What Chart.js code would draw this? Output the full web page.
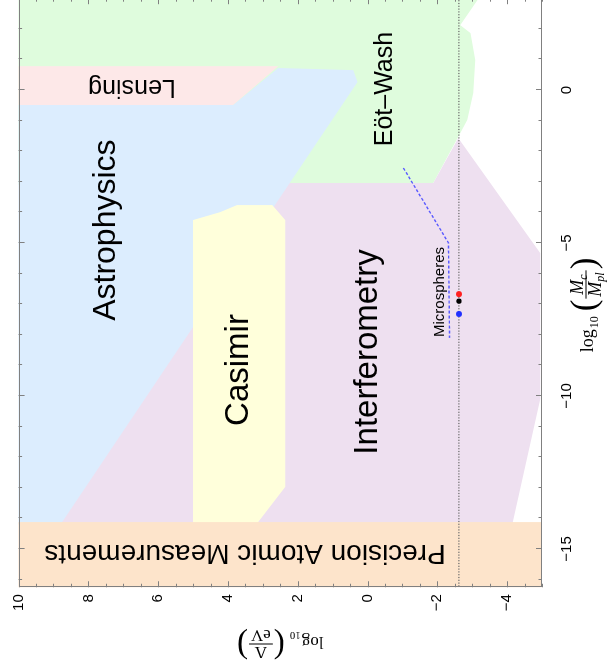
<!DOCTYPE html>
<html>
<head>
<meta charset="utf-8">
<script src="https://cdn.jsdelivr.net/npm/chart.js@4.4.1/dist/chart.umd.min.js"></script>
<style>
  html, body { margin: 0; padding: 0; background: #fff; overflow: hidden; width: 608px; height: 670px; }
  /* the plot is laid out landscape and turned a quarter turn counter-clockwise */
  #wrap { position: absolute; left: 0; top: 0; width: 680px; height: 608px;
          transform-origin: 0 0; transform: translate(0, 670px) rotate(-90deg); }
</style>
</head>
<body>
<div id="wrap"><canvas id="c" width="680" height="608"></canvas></div>
<script>
// ---- axes: x = log10(Mc/Mpl), y = log10(Λ/eV) ----
const massRange  = [-16.25, 3];
const scaleRange = [-5, 10];
const massTicks  = [-15, -10, -5, 0];
const scaleTicks = [10, 8, 6, 4, 2, 0, -2, -4];

// ---- excluded regions, vertices as [log10(Mc/Mpl), log10(Λ/eV)] ----
const eotWash = [[3.2, 10.5], [3.2, -3.31], [2.94, -3.15], [2.12, -2.66], [1.86, -2.95], [0.98, -3.09],
                 [-0.10, -3.03], [-0.98, -2.86], [-1.41, -2.66], [-3.04, -1.88], [-3.1, -1.88], [-3.1, 10.5]];
const lensing = [[0.78, 10.5], [0.78, 2.56], [-0.49, 3.85], [-0.49, 10.5]];
const interferometry = [[-3.04, 2.6], [-3.04, -1.88], [-1.57, -2.60], [-5.33, -4.95], [-10.10, -4.95],
                        [-14.2, -4.15], [-14.2, 9.3]];
const astrophysics = [[-0.49, 10.5], [-0.49, 3.85], [0.72, 2.56], [0.65, 0.41], [0.26, 0.29],
                      [-14.2, 8.80], [-14.2, 10.5]];
const casimir = [[-14.2, 5.0], [-4.25, 5.0], [-3.99, 4.22], [-3.76, 3.74], [-3.76, 2.73], [-4.25, 2.36],
                 [-12.97, 2.36], [-14.2, 3.19]];
const atomic = [[-16.5, 10.5], [-14.12, 10.5], [-14.12, -5.5], [-16.5, -5.5]];

// ---- lines and points ----
const darkEnergy = [[-16.5, -2.62], [3.5, -2.62]];          // Λ = 2.4 meV
const microspheres = [[-2.55, -1.03], [-5.0, -2.32], [-8.1, -2.35]];
const pointRed   = [[-6.67, -2.62]];
const pointBlack = [[-6.90, -2.62]];
const pointBlue  = [[-7.32, -2.62]];

// ---- region names ----
const regionNames = ['Astrophysics', 'Casimir', 'Interferometry', 'Eöt–Wash', 'Microspheres', 'Lensing', 'Precision Atomic Measurements'];
const nameAnchors = [[-4.58, 7.49], [-9.15, 3.69], [-8.56, 0.0], [0.03, -0.50], [-6.6, -2.06], [0.1, 6.75], [-15.12, 3.51]];
const nameSizes = [32, 33, 33, 25, 15, 25, 28];
const nameTurned = [false, false, false, false, false, true, true];

const pts = a => a.map(([x, y]) => ({x, y}));
const closed = a => pts(a.concat([a[0]]));

function region(data, color, order) {
  return { data: closed(data), showLine: true, fill: 'shape', backgroundColor: color,
           borderWidth: 0, borderColor: 'rgba(0,0,0,0)', pointRadius: 0, tension: 0, order };
}

const SANS = '"Liberation Sans", Arial, sans-serif';
const SERIF = '"Liberation Serif", "Times New Roman", serif';

const namesPlugin = {
  id: 'names',
  afterDatasetsDraw(chart) {
    const {ctx, scales: {x, y}} = chart;
    regionNames.forEach((t, i) => {
      const [mx, my] = nameAnchors[i];
      ctx.save();
      ctx.translate(x.getPixelForValue(mx), y.getPixelForValue(my));
      if (nameTurned[i]) ctx.rotate(-Math.PI / 2);
      ctx.font = nameSizes[i] + 'px ' + SANS;
      ctx.fillStyle = '#000';
      ctx.textAlign = 'center';
      ctx.textBaseline = 'middle';
      ctx.fillText(t, 0, 0);
      ctx.restore();
    });
  }
};

const framePlugin = {
  id: 'frame',
  afterDatasetsDraw(chart) {
    const {ctx, chartArea: a, scales: {x, y}} = chart;
    ctx.save();
    ctx.strokeStyle = '#808080';
    ctx.lineWidth = 1;
    const seg = (x1, y1, x2, y2) => { ctx.beginPath(); ctx.moveTo(x1, y1); ctx.lineTo(x2, y2); ctx.stroke(); };
    // ticks pointing into the plot on all four sides
    for (let v = Math.ceil(x.min); v <= x.max; v++) {
      const p = Math.round(x.getPixelForValue(v)) + 0.5;
      const len = v % 5 === 0 ? 6 : 3.5;
      seg(p, a.bottom, p, a.bottom - len);
      seg(p, a.top, p, a.top + len);
    }
    for (let k = Math.ceil(y.min * 2); k <= y.max * 2; k++) {
      const v = k / 2;
      const p = Math.round(y.getPixelForValue(v)) + 0.5;
      const len = v % 2 === 0 ? 6 : 3.5;
      seg(a.left, p, a.left + len, p);
      seg(a.right, p, a.right - len, p);
    }
    ctx.strokeRect(Math.round(a.left) + 0.5, Math.round(a.top) + 0.5,
                   Math.round(a.right) - Math.round(a.left) - 1, Math.round(a.bottom) - Math.round(a.top) - 1);
    ctx.restore();
  }
};

// log10 ( num / den ) written with a stacked fraction; the fraction bar sits at the origin
function fracTitle(ctx, cx, cy, rot, num, den, fs) {
  ctx.save();
  ctx.translate(cx, cy);
  ctx.rotate(rot);
  ctx.fillStyle = '#000';
  ctx.textBaseline = 'alphabetic';
  const sub = Math.round(fs * 0.66);
  const f = (size, italic) => (italic ? 'italic ' : '') + size + 'px ' + SERIF;
  const width = parts => parts.reduce((w, p) => { ctx.font = f(p.sub ? sub : fs, p.it); return w + ctx.measureText(p.t).width; }, 0);
  ctx.font = f(fs); const wLog = ctx.measureText('log').width;
  ctx.font = f(sub); const wTen = ctx.measureText('10').width;
  const pfs = Math.round(fs * 1.95);
  ctx.font = f(pfs); const wPar = ctx.measureText('(').width;
  const wNum = width(num), wDen = width(den);
  const wFrac = Math.max(wNum, wDen) + 6;
  const gap = 5;
  const total = wLog + 1 + wTen + gap + wPar + wFrac + wPar;
  let cur = -total / 2;
  const mid = fs * 0.3;
  ctx.font = f(fs); ctx.fillText('log', cur, mid + 2); cur += wLog + 1;
  ctx.font = f(sub); ctx.fillText('10', cur, mid + 2 + sub * 0.42); cur += wTen + gap;
  ctx.font = f(pfs); ctx.fillText('(', cur, pfs * 0.25); cur += wPar;
  const drawRow = (parts, x0, base) => {
    let c = x0;
    parts.forEach(p => {
      ctx.font = f(p.sub ? sub : fs, p.it);
      ctx.fillText(p.t, c, base + (p.sub ? sub * 0.3 : 0));
      c += ctx.measureText(p.t).width;
    });
  };
  drawRow(num, cur + (wFrac - wNum) / 2, -3);
  ctx.fillRect(cur + 1, -0.5, wFrac - 2, 1);
  drawRow(den, cur + (wFrac - wDen) / 2, 3 + fs * 0.66);
  cur += wFrac;
  ctx.font = f(pfs); ctx.fillText(')', cur, pfs * 0.25);
  ctx.restore();
}

const titlePlugin = {
  id: 'titles',
  afterDraw(chart) {
    const {ctx, chartArea: a} = chart;
    fracTitle(ctx, 365, a.bottom + 44, 0,
      [{t: 'M', it: true}, {t: 'c', it: true, sub: true}],
      [{t: 'M', it: true}, {t: 'pl', it: true, sub: true}], 18);
    fracTitle(ctx, 26, (a.top + a.bottom) / 2, -Math.PI / 2,
      [{t: 'Λ'}], [{t: 'eV'}], 17);
  }
};

new Chart(document.getElementById('c'), {
  type: 'scatter',
  data: {
    datasets: [
      region(eotWash, '#dffcdd', 9),
      region(lensing, '#fde8e8', 8),
      region(interferometry, '#eee0f0', 7),
      region(astrophysics, '#dcedfe', 6),
      region(casimir, '#ffffdb', 5),
      region(atomic, '#fde4cb', 4),
      { data: pts(darkEnergy), showLine: true, borderColor: '#6a6a6a', borderWidth: 1.2,
        borderDash: [1.2, 1.6], pointRadius: 0, fill: false, order: 3 },
      { data: pts(microspheres), showLine: true, borderColor: '#5a5aff', borderWidth: 1.4,
        borderDash: [3, 2], pointRadius: 0, fill: false, order: 2 },
      { data: pts(pointRed), pointRadius: 3, backgroundColor: '#ff2020', borderWidth: 0, order: 1 },
      { data: pts(pointBlue), pointRadius: 3, backgroundColor: '#2030ff', borderWidth: 0, order: 1 },
      { data: pts(pointBlack), pointRadius: 2.6, backgroundColor: '#000', borderWidth: 0, order: 0 }
    ]
  },
  options: {
    responsive: false,
    animation: false,
    devicePixelRatio: 1,
    layout: { padding: { top: 18.6, right: 8.2, left: 0, bottom: 0 } },
    plugins: { legend: { display: false }, tooltip: { enabled: false } },
    scales: {
      x: {
        type: 'linear', min: massRange[0], max: massRange[1],
        grid: { display: false, drawTicks: false }, border: { display: false },
        afterBuildTicks: s => { s.ticks = massTicks.map(v => ({value: v})); },
        afterFit: s => { s.height = 66; },
        ticks: { padding: 16, color: '#000', font: { family: SANS, size: 15 },
                 callback: v => String(v).replace('-', '\u2212') }
      },
      y: {
        type: 'linear', min: scaleRange[0], max: scaleRange[1],
        grid: { display: false, drawTicks: false }, border: { display: false },
        afterBuildTicks: s => { s.ticks = scaleTicks.map(v => ({value: v})); },
        afterFit: s => { s.width = 82.75; },
        ticks: { padding: 7, color: '#000', font: { family: SANS, size: 15 },
                 callback: v => String(v).replace('-', '\u2212') }
      }
    }
  },
  plugins: [namesPlugin, framePlugin, titlePlugin]
});
</script>
</body>
</html>
